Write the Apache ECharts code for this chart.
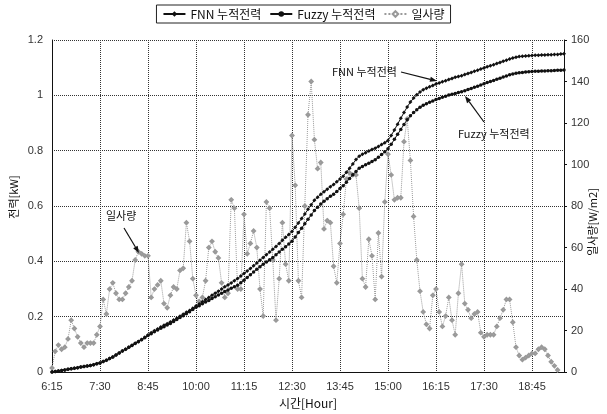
<!DOCTYPE html>
<html><head><meta charset="utf-8">
<script src="https://cdn.jsdelivr.net/npm/echarts@6/dist/echarts.min.js"></script>
<style>html,body{margin:0;padding:0;background:#fff}#c{width:607px;height:414px}</style>
</head><body><div id="c"></div>
<script>
// x-axis tick labels (every 75 minutes) and 5-minute categories from 6:15 to 19:35
const tickLabels = ['6:15','7:30','8:45','10:00','11:15','12:30','13:45','15:00','16:15','17:30','18:45'];
const categories = [];
for (let m = 6 * 60 + 15; m <= 19 * 60 + 35; m += 5) {
  categories.push(Math.floor(m / 60) + ':' + String(m % 60).padStart(2, '0'));
}
const leftTicks = [0, 0.2, 0.4, 0.6, 0.8, 1, 1.2];
const rightTicks = [0, 20, 40, 60, 80, 100, 120, 140, 160];

// FNN cumulative power [kW]
const fnn = [
  0, 0.002, 0.004, 0.006, 0.008, 0.010, 0.012, 0.014, 0.016, 0.018, 0.020, 0.022, 0.024, 0.027, 0.030, 0.033,
  0.038, 0.043, 0.049, 0.055, 0.062, 0.069, 0.076, 0.083, 0.090, 0.097, 0.104, 0.111, 0.118, 0.126, 0.134,
  0.142, 0.149, 0.156, 0.163, 0.169, 0.175, 0.181, 0.188, 0.195, 0.202, 0.209, 0.216, 0.223, 0.231, 0.239,
  0.246, 0.254, 0.262, 0.270, 0.278, 0.285, 0.292, 0.300, 0.308, 0.315, 0.322, 0.330, 0.338,
  0.347, 0.356, 0.365, 0.374, 0.384, 0.394, 0.404, 0.414, 0.424, 0.434, 0.444,
  0.454, 0.465, 0.476, 0.487, 0.497, 0.508,
  0.523, 0.539, 0.555, 0.571, 0.588, 0.605, 0.621,
  0.632, 0.643, 0.652, 0.661, 0.670, 0.678,
  0.688, 0.698, 0.708,
  0.722, 0.737, 0.752, 0.768, 0.780,
  0.787, 0.793, 0.799, 0.804, 0.809, 0.815, 0.822, 0.829, 0.837,
  0.855, 0.875, 0.896, 0.917, 0.938, 0.958, 0.976,
  0.990, 1.002, 1.012, 1.020, 1.026, 1.031, 1.036, 1.041,
  1.045, 1.049, 1.053, 1.057, 1.061, 1.065, 1.068, 1.071,
  1.075, 1.079, 1.083, 1.087, 1.091, 1.095, 1.099, 1.103,
  1.107, 1.111, 1.115, 1.119, 1.123, 1.127, 1.131, 1.135, 1.138,
  1.140, 1.141, 1.142, 1.143, 1.144, 1.145, 1.145, 1.146, 1.146, 1.147, 1.147, 1.148, 1.148, 1.149, 1.150
];

// Fuzzy cumulative power [kW]
const fuzzy = [
  0, 0.002, 0.004, 0.006, 0.008, 0.010, 0.012, 0.014, 0.016, 0.018, 0.020, 0.022, 0.024, 0.027, 0.030, 0.033,
  0.038, 0.043, 0.049, 0.055, 0.062, 0.069, 0.076, 0.083, 0.090,
  0.096, 0.103, 0.110, 0.117, 0.124, 0.132,
  0.139, 0.146, 0.152, 0.158, 0.164, 0.170, 0.176, 0.183, 0.190, 0.197, 0.204, 0.211, 0.218, 0.226, 0.234,
  0.240, 0.247, 0.253, 0.259, 0.266, 0.272, 0.279,
  0.285, 0.291, 0.297, 0.303, 0.308, 0.314,
  0.323, 0.332, 0.342, 0.352, 0.362,
  0.372, 0.381, 0.390, 0.398, 0.406, 0.414,
  0.424, 0.434, 0.444, 0.453, 0.463, 0.473,
  0.488, 0.504, 0.520, 0.536, 0.552, 0.568, 0.584,
  0.596, 0.607, 0.617, 0.626, 0.635, 0.643,
  0.653, 0.663, 0.673,
  0.686, 0.700, 0.713, 0.725, 0.737,
  0.743, 0.749, 0.755, 0.761, 0.767, 0.776, 0.786, 0.796, 0.807,
  0.823, 0.841, 0.859, 0.877, 0.895, 0.912, 0.926,
  0.938, 0.948, 0.957, 0.964, 0.970, 0.975, 0.980, 0.985,
  0.989, 0.993, 0.997, 1.001, 1.004, 1.007, 1.010, 1.013,
  1.017, 1.021, 1.025, 1.029, 1.033, 1.037, 1.042, 1.046,
  1.050, 1.054, 1.058, 1.062, 1.066, 1.070, 1.074, 1.077, 1.080,
  1.082, 1.083, 1.084, 1.085, 1.086, 1.087, 1.087, 1.088, 1.088, 1.089, 1.089, 1.090, 1.091, 1.091, 1.092
];

// Solar radiation [W/m2]
const solar = [
  2, 10, 13, 11, 12, 16, 25, 21, 17, 14,
  12, 14, 14, 14, 18, 22, 35, 28, 40, 43,
  38, 35, 35, 38, 41, 44, 54, 58, 57, 56,
  56, 36, 40, 42, 44, 33, 31, 37, 41, 40,
  49, 50, 72, 63, 45, 37, 34, 36, 44, 60,
  63, 58, 55, 43, 36, 38, 83, 79, 40, 40,
  76, 57, 62, 68, 60, 40, 27, 82, 79, 54,
  25, 45, 72, 52, 44, 114, 90, 44, 36, 80,
  124, 140, 112, 98, 101, 69, 73, 72, 51, 43,
  62, 76, 93, 96, 95, 95, 79, 45, 41, 64,
  56, 35, 67, 46, 82, 105, 95, 83, 84, 84,
  111, 122, 102, 75, 54, 39, 29, 23, 21, 37,
  40, 29, 22, 27, 36, 25, 18, 38, 52, 33,
  30, 26, 28, 29, 19, 17, 18, 18, 18, 22,
  26, 30, 35, 35, 24, 12, 8, 6, 7, 8,
  9, 9, 11, 12, 11, 8, 5, 3, 1, null, null
];

const FONT = '"Liberation Sans", "Noto Sans CJK KR", sans-serif';
const KFONT = '"Noto Sans CJK KR", "Liberation Sans", sans-serif';

function arrow(x1, y1, x2, y2) {
  const a = Math.atan2(y2 - y1, x2 - x1), L = 7, W = 2.6;
  const bx = x2 - L * Math.cos(a), by = y2 - L * Math.sin(a);
  const px = -Math.sin(a) * W, py = Math.cos(a) * W;
  return [
    { type: 'line', z: 100, shape: { x1: x1, y1: y1, x2: bx, y2: by }, style: { stroke: '#111', lineWidth: 1.2 } },
    { type: 'polygon', z: 100, shape: { points: [[x2, y2], [bx + px, by + py], [bx - px, by - py]] }, style: { fill: '#111' } }
  ];
}
function label(text, x, y, extra) {
  return Object.assign({ type: 'text', z: 100, x: x, y: y,
    style: { text: text, fontSize: 11, fontFamily: KFONT, fill: '#111' } }, extra || {});
}

const chart = echarts.init(document.getElementById('c'), null, { renderer: 'canvas' });
chart.setOption({
  animation: false,
  backgroundColor: '#fff',
  textStyle: { fontFamily: FONT },
  legend: {
    top: 5, left: 'center',
    borderColor: '#222', borderWidth: 1, padding: [3, 6],
    itemWidth: 22, itemHeight: 7, itemGap: 8,
    textStyle: { fontFamily: KFONT, fontSize: 12, color: '#111' },
    data: ['FNN 누적전력', 'Fuzzy 누적전력', '일사량']
  },
  grid: { left: 52, right: 43, top: 40, bottom: 33 },
  xAxis: {
    type: 'category', data: categories, boundaryGap: false,
    name: '시간[Hour]', nameLocation: 'middle', nameGap: 18,
    nameTextStyle: { fontFamily: KFONT, fontSize: 12, color: '#111' },
    axisLine: { lineStyle: { color: '#111', width: 1 } },
    axisTick: { show: false },
    axisLabel: {
      interval: 14, color: '#333', fontSize: 11, margin: 9,
      formatter: function (v) { return tickLabels.indexOf(v) >= 0 ? v : ''; }
    },
    splitLine: { show: true, interval: 14, lineStyle: { type: 'dotted', color: '#333', width: 1 } }
  },
  yAxis: [
    {
      type: 'value', min: 0, max: 1.2, interval: 0.2,
      axisLine: { show: true, lineStyle: { color: '#111' } },
      axisTick: { show: false },
      axisLabel: { color: '#333', fontSize: 11, margin: 9,
        formatter: function (v) { const t = leftTicks.find(function (k) { return Math.abs(k - v) < 1e-9; }); return String(t); } },
      splitLine: { show: true, lineStyle: { type: 'dotted', color: '#333', width: 1 } }
    },
    {
      type: 'value', min: 0, max: 160, interval: 20, position: 'right',
      axisLine: { show: true, lineStyle: { color: '#111' } },
      axisTick: { show: true, length: 3, inside: false, lineStyle: { color: '#111' } },
      axisLabel: { color: '#333', fontSize: 11, margin: 7,
        formatter: function (v) { return rightTicks.indexOf(v) >= 0 ? String(v) : ''; } },
      splitLine: { show: false }
    }
  ],
  series: [
    {
      name: 'FNN 누적전력', type: 'line', data: fnn, yAxisIndex: 0,
      showAllSymbol: true, symbol: 'diamond', symbolSize: 4,
      itemStyle: { color: '#111' }, lineStyle: { color: '#111', width: 1 }, z: 5
    },
    {
      name: 'Fuzzy 누적전력', type: 'line', data: fuzzy, yAxisIndex: 0,
      showAllSymbol: true, symbol: 'circle', symbolSize: 3.5,
      itemStyle: { color: '#111' }, lineStyle: { color: '#111', width: 1 }, z: 5
    },
    {
      name: '일사량', type: 'line', data: solar, yAxisIndex: 1,
      showAllSymbol: true, symbol: 'emptyDiamond', symbolSize: 3,
      itemStyle: { color: '#999', borderColor: '#8a8a8a', borderWidth: 0.8 },
      lineStyle: { color: '#9a9a9a', width: 1, type: 'dotted' }, z: 3
    }
  ],
  graphic: [].concat(
    [label('전력[kW]', 14, 197, { rotation: Math.PI / 2, style: { text: '전력[kW]', fontSize: 11, fontFamily: KFONT, fill: '#111', align: 'center', verticalAlign: 'middle' } })],
    [label('일사량[W/m2]', 593, 222, { rotation: Math.PI / 2, style: { text: '일사량[W/m2]', fontSize: 11, fontFamily: KFONT, fill: '#111', align: 'center', verticalAlign: 'middle' } })],
    [label('FNN 누적전력', 332, 66)],
    arrow(401, 72, 437, 81),
    [label('Fuzzy 누적전력', 458, 128)],
    arrow(484, 122, 465, 96),
    [label('일사량', 106, 210)],
    arrow(124, 228, 139, 253)
  )
});
</script>
</body></html>
